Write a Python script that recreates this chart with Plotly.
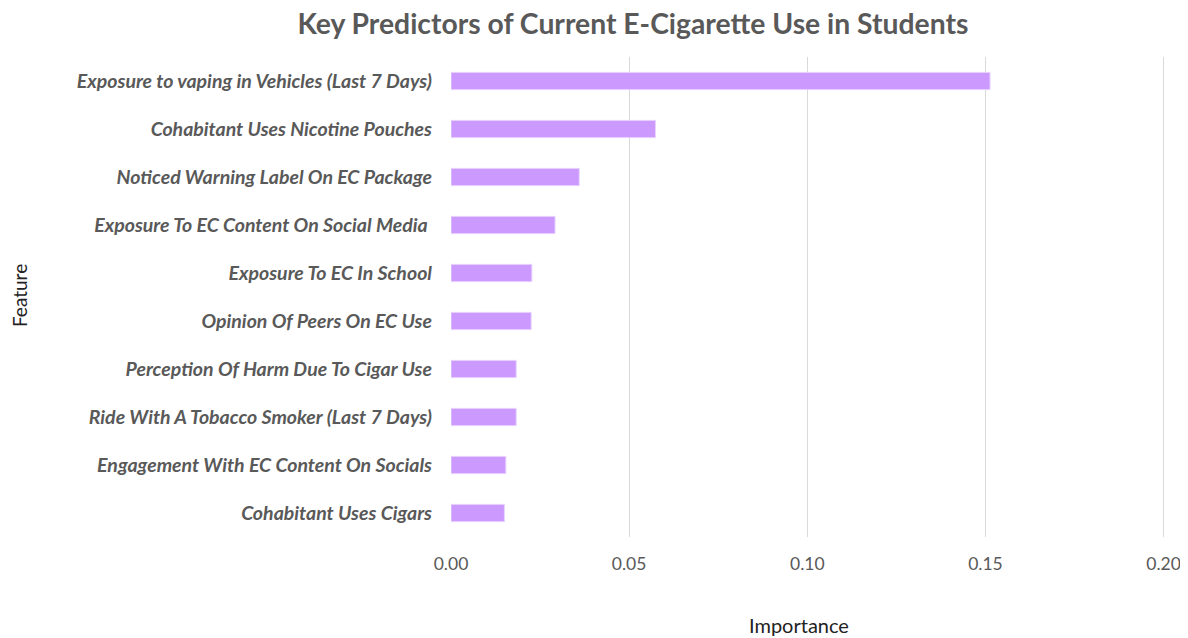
import plotly.graph_objects as go

features = [
    "Exposure to vaping in Vehicles (Last 7 Days)",
    "Cohabitant Uses Nicotine Pouches",
    "Noticed Warning Label On EC Package",
    "Exposure To EC Content On Social Media ",
    "Exposure To EC In School",
    "Opinion Of Peers On EC Use",
    "Perception Of Harm Due To Cigar Use",
    "Ride With A Tobacco Smoker (Last 7 Days)",
    "Engagement With EC Content On Socials",
    "Cohabitant Uses Cigars",
]
importance = [0.1513, 0.0574, 0.0360, 0.0292, 0.0227, 0.0225, 0.0183, 0.0183, 0.0154, 0.0150]
x_ticks = [0.0, 0.05, 0.10, 0.15, 0.20]
x_tick_labels = ["0.00", "0.05", "0.10", "0.15", "0.20"]

FONT = "Lato"
GRAY = "#595959"

fig = go.Figure(
    go.Bar(
        x=importance,
        y=features,
        orientation="h",
        marker=dict(color="#cc99ff", line=dict(color="#e8d4ff", width=1)),
    )
)

fig.update_layout(
    width=1188,
    height=638,
    plot_bgcolor="white",
    paper_bgcolor="white",
    margin=dict(l=443, r=31, t=49, b=109),
    bargap=0.64,
    showlegend=False,
    title=dict(
        text="<b>Key Predictors of Current E-Cigarette Use in Students</b>",
        x=0.526,
        xanchor="center",
        y=0.975,
        yanchor="middle",
        font=dict(family=FONT, size=28.3, color=GRAY),
    ),
    font=dict(family=FONT, color=GRAY),
    annotations=[
        dict(
            text="Importance", xref="paper", yref="paper", x=0.488, y=-0.183,
            xanchor="center", yanchor="middle", showarrow=False,
            font=dict(family=FONT, size=20, color="#222222"),
        ),
        dict(
            text="Feature", xref="paper", yref="paper", x=-0.605, y=0.502,
            xanchor="center", yanchor="middle", showarrow=False, textangle=-90,
            font=dict(family=FONT, size=19, color="#222222"),
        ),
    ],
)

fig.update_xaxes(
    range=[0, 0.2004],
    tickvals=x_ticks,
    ticktext=x_tick_labels,
    showgrid=True,
    gridcolor="#d9d9d9",
    gridwidth=1,
    zeroline=False,
    showline=False,
    ticks="",
    automargin=False,
    ticklabelstandoff=14,
    tickfont=dict(family=FONT, size=17.5, color=GRAY),
)

fig.update_yaxes(
    categoryorder="array",
    categoryarray=features,
    autorange="reversed",
    showgrid=False,
    zeroline=False,
    showline=False,
    ticks="",
    automargin=False,
    ticklabelstandoff=18,
    tickfont=dict(family=FONT, size=19.5, color=GRAY, weight="bold", style="italic"),
)

fig.write_html("out.html")
